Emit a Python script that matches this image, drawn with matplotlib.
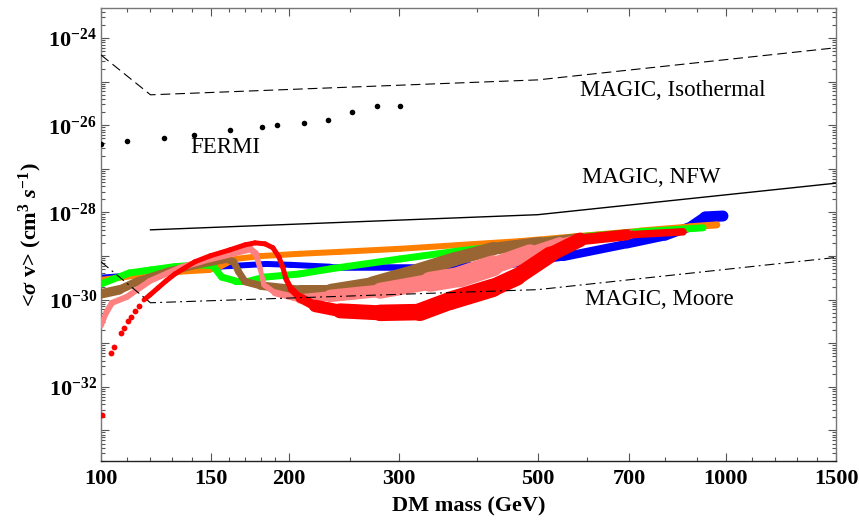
import numpy as np
import matplotlib
matplotlib.use("Agg")
import matplotlib.pyplot as plt
from matplotlib.collections import LineCollection
from matplotlib.ticker import FixedLocator, FuncFormatter, NullFormatter

plt.rcParams["font.family"] = ["Liberation Serif", "DejaVu Serif"]
plt.rcParams["mathtext.fontset"] = "custom"
plt.rcParams["mathtext.rm"] = "Liberation Serif:bold"
plt.rcParams["mathtext.bf"] = "Liberation Serif:bold"
plt.rcParams["mathtext.it"] = "Liberation Serif:italic:bold"
plt.rcParams["lines.scale_dashes"] = False

# ---------------- data ----------------
# FERMI dwarf-galaxy limits
fermi_mass = [100, 110, 126, 141, 161, 181, 191, 211, 231, 252, 276, 301]
fermi_sv = [3.8e-27, 4.3e-27, 5.1e-27, 6.0e-27, 8.0e-27, 9.1e-27, 9.9e-27,
            1.1e-26, 1.3e-26, 2.0e-26, 2.8e-26, 2.8e-26]

# MAGIC limits for three halo profiles
magic_mass = [100, 120, 500, 1500]
magic_iso_sv = [4.1e-25, 5.0e-26, 1.1e-25, 6.0e-25]
magic_moore_sv = [7.4e-30, 8.5e-31, 1.7e-30, 9.3e-30]
magic_nfw_mass = [120, 500, 1500]
magic_nfw_sv = [4.0e-29, 8.9e-29, 4.7e-28]

# model scans: <sigma v> versus DM mass
blue_mass = [100, 109, 123, 144, 184, 201, 233, 324, 446, 549, 695, 799, 882, 926, 989]
blue_sv = [3.2e-30, 3.5e-30, 4.4e-30, 5.4e-30, 6.6e-30, 6.3e-30, 5.7e-30, 5.7e-30,
           6.3e-30, 9.6e-30, 1.9e-29, 2.9e-29, 4.9e-29, 7.9e-29, 8.3e-29]

orange_mass = [100, 107, 120, 134, 149, 156, 164, 180, 208, 241, 301, 375, 468, 584,
               729, 876, 967]
orange_sv = [2.85e-30, 3.2e-30, 3.9e-30, 4.4e-30, 4.8e-30, 6.0e-30, 8.6e-30, 1.0e-29,
             1.13e-29, 1.25e-29, 1.47e-29, 1.8e-29, 2.2e-29, 2.9e-29, 3.8e-29,
             4.7e-29, 5.2e-29]

green_mass = [100, 111, 120, 131, 144, 151, 156, 164, 173, 183, 208, 233, 301, 375,
              468, 584, 729, 919]
green_sv = [2.3e-30, 4.1e-30, 4.8e-30, 5.7e-30, 6.3e-30, 6.0e-30, 3.3e-30, 2.7e-30,
            2.7e-30, 3.3e-30, 3.9e-30, 5.1e-30, 8.6e-30, 1.32e-29, 1.9e-29, 2.76e-29,
            3.6e-29, 4.45e-29]

brown_mass = [100, 107, 115, 128, 144, 159, 163, 166, 170, 180, 208, 233, 272, 320,
              369, 424, 504, 584, 702]
brown_sv = [1.36e-30, 1.68e-30, 2.7e-30, 4.4e-30, 6.6e-30, 8.6e-30, 7.4e-30, 4.4e-30,
            2.6e-30, 2.1e-30, 1.68e-30, 1.68e-30, 2.4e-30, 4.6e-30, 8.6e-30, 1.47e-29,
            2.0e-29, 2.6e-29, 3.4e-29]

pink_mass = [100, 101.9, 104.1, 110, 119.8, 133.8, 149.4, 163.8, 173.2, 177.0, 179.6,
             182.3, 189.8, 208.2, 232.5, 279.5, 336.0, 375.3, 423.9, 485.9, 542.5,
             584.0, 702.2]
pink_sv = [2.53e-31, 4.99e-31, 8.45e-31, 1.16e-30, 2.7e-30, 5.4e-30, 8.65e-30, 1.19e-29,
           1.47e-29, 1.13e-29, 5.4e-30, 2.19e-30, 1.44e-30, 1.04e-30, 1.22e-30, 1.6e-30,
           2.57e-30, 3.34e-30, 5.97e-30, 1.19e-29, 2.01e-29, 2.62e-29, 3.41e-29]

red_dot_mass = [100.4, 103.7, 104.9, 107.6, 108.8, 110.5, 111.7, 113.3, 115.0]
red_dot_sv = [2.3e-33, 6.0e-32, 8.3e-32, 1.73e-31, 2.26e-31, 3.27e-31, 4.04e-31,
              5.55e-31, 7.2e-31]

red_mass = [117.2, 119.8, 123.4, 127.1, 131.4, 136.3, 141.3, 149.4, 160.8, 170.0, 176.4,
            183.0, 188.4, 192.6, 195.5, 197.7, 201.4, 208.2, 220.0, 241.2, 279.5, 323.8,
            361.7, 423.9, 463.1, 522.9, 584.0, 694.5, 853.8]
red_sv = [9.9e-31, 1.29e-30, 1.87e-30, 2.7e-30, 3.92e-30, 5.4e-30, 7.4e-30, 1.01e-29,
          1.39e-29, 1.81e-29, 2.01e-29, 1.91e-29, 1.55e-29, 9.6e-30, 5.4e-30, 3.0e-30,
          1.77e-30, 1.10e-30, 7.2e-31, 5.55e-31, 4.99e-31, 5.2e-31, 9.4e-31, 1.87e-30,
          3.34e-30, 1.07e-29, 2.36e-29, 3.07e-29, 3.6e-29]

x_ticks = [100, 150, 200, 300, 500, 700, 1000, 1500]
x_minor = [110, 120, 130, 140, 160, 170, 180, 190, 250, 400, 600, 800, 900,
           1100, 1200, 1300, 1400]

# ---------------- styles ----------------
PX = 0.72  # one pixel in points at 100 dpi
blue_w = [6, 6, 6, 6, 6, 6, 6, 7, 7, 8, 9, 9, 10, 11, 11]
orange_w = [6] * 15 + [7, 7]
green_w = [7] * 18
brown_w = [10, 9, 8, 8, 8, 8, 7, 7, 7, 8, 9, 11, 13, 14, 14, 13, 11, 9, 6]
pink_w = [5, 6, 6, 6, 6, 6, 7, 7, 7, 6, 5, 5, 6, 8, 11, 14, 18, 22, 20, 14, 9, 7, 5]
red_w = [5] * 16 + [6, 8, 11, 14, 16, 17, 19, 18, 17, 16, 13, 9, 6]

C_BLUE = "#0000ff"
C_ORANGE = "#ff8000"
C_GREEN = "#00ff00"
C_BROWN = "#996633"
C_PINK = "#ff8080"
C_RED = "#ff0000"


def draw_band(ax, mass, sv, widths, color, z):
    pts = np.column_stack([mass, sv])
    segs = np.stack([pts[:-1], pts[1:]], axis=1)
    w = np.asarray(widths, dtype=float)
    lw = (w[:-1] + w[1:]) / 2.0 * PX
    lc = LineCollection(segs, linewidths=lw, colors=color, capstyle="round",
                        joinstyle="round", zorder=z)
    ax.add_collection(lc, autolim=False)


fig = plt.figure(figsize=(8.59, 5.20), dpi=100)
ax = fig.add_axes([0.11758, 0.11346, 0.85565, 0.87115])
ax.set_xscale("log")
ax.set_yscale("log")

draw_band(ax, blue_mass, blue_sv, blue_w, C_BLUE, 2)
draw_band(ax, orange_mass, orange_sv, orange_w, C_ORANGE, 3)
draw_band(ax, green_mass, green_sv, green_w, C_GREEN, 4)
draw_band(ax, brown_mass, brown_sv, brown_w, C_BROWN, 5)
draw_band(ax, pink_mass, pink_sv, pink_w, C_PINK, 6)
draw_band(ax, red_mass, red_sv, red_w, C_RED, 7)
ax.plot(red_dot_mass, red_dot_sv, "o", color=C_RED, ms=4.2, mew=0, zorder=7)

# experimental limits
iso, = ax.plot(magic_mass, magic_iso_sv, color="black", lw=0.8, zorder=10)
iso.set_dashes([7.0, 3.6])
ax.plot(magic_nfw_mass, magic_nfw_sv, color="black", lw=1.0, zorder=10)
moore, = ax.plot(magic_mass, magic_moore_sv, color="black", lw=0.8, zorder=10)
moore.set_dashes([7.0, 3.0, 1.4, 3.0])
ax.plot(fermi_mass, fermi_sv, "o", color="black", ms=4.0, mew=0, zorder=10)

txt_kw = dict(fontsize=16.5, color="black", ha="left", va="baseline", zorder=11)
ax.text(138.8, 2.34e-27, "FERMI", **txt_kw)
ax.text(584, 4.74e-26, "MAGIC, Isothermal", **txt_kw)
ax.text(588, 4.79e-28, "MAGIC, NFW", **txt_kw)
ax.text(595, 7.6e-31, "MAGIC, Moore", **txt_kw)

# axes
ax.set_xlim(100, 1500)
ax.set_ylim(10 ** -33.70, 10 ** -23.31)

ax.xaxis.set_major_locator(FixedLocator(x_ticks))
ax.xaxis.set_minor_locator(FixedLocator(x_minor))
ax.xaxis.set_major_formatter(FuncFormatter(lambda v, p: "%d" % round(v)))
ax.xaxis.set_minor_formatter(NullFormatter())

y_major = [10.0 ** e for e in range(-33, -23)]
y_minor = [m * 10.0 ** e for e in range(-34, -23) for m in range(2, 10)]
ax.yaxis.set_major_locator(FixedLocator(y_major))
ax.yaxis.set_minor_locator(FixedLocator(y_minor))


def y_fmt(v, pos):
    e = int(round(np.log10(v)))
    if e % 2:
        return ""
    return r"$\mathbf{10^{%d}}$" % e


ax.yaxis.set_major_formatter(FuncFormatter(y_fmt))
ax.yaxis.set_minor_formatter(NullFormatter())

ax.tick_params(which="both", direction="in", top=True, right=True,
               color="#555555", width=0.8)
ax.tick_params(which="major", length=5.5)
ax.tick_params(which="minor", length=3.0)
ax.tick_params(axis="x", which="major", labelsize=16, pad=6)
ax.tick_params(axis="y", which="major", labelsize=16, pad=3)
for lab in ax.get_xticklabels():
    lab.set_fontweight("bold")

for side in ["top", "right", "left"]:
    ax.spines[side].set_color("#777777")
ax.spines["bottom"].set_color("#222222")
for s in ax.spines.values():
    s.set_linewidth(1.0)

ax.set_xlabel("DM mass (GeV)", fontsize=16, fontweight="bold")
ax.xaxis.set_label_coords(0.5, -0.078)
ax.set_ylabel(r"<$\sigma$ v> (cm$^{3}$ $s^{-1}$)", fontsize=16, fontweight="bold")
ax.yaxis.set_label_coords(-0.077, 0.5)

fig.savefig("out.png", dpi=100)
